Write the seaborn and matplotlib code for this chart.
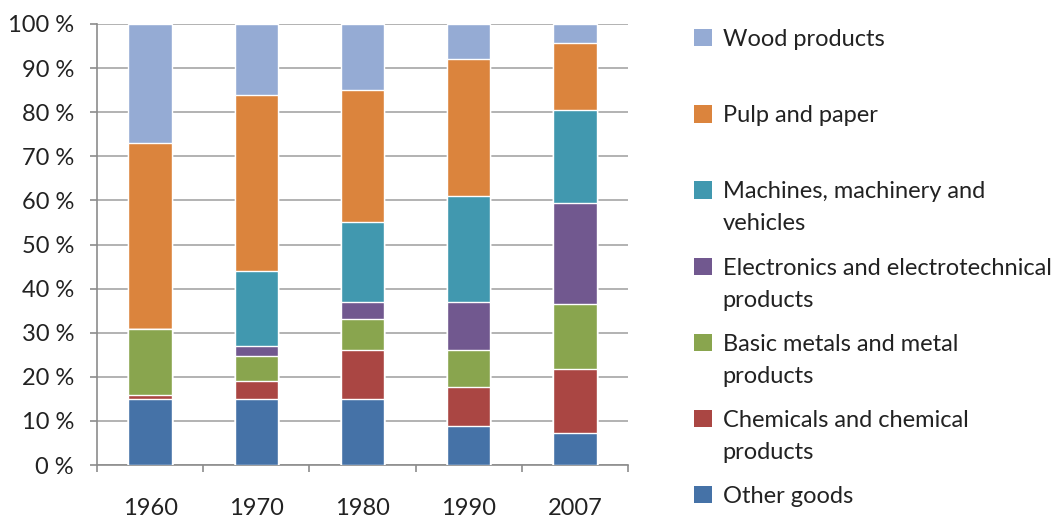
import matplotlib.pyplot as plt
import numpy as np
import pandas as pd
import seaborn as sns
from matplotlib.patches import Patch
from matplotlib.ticker import FixedLocator

years = ['1960', '1970', '1980', '1990', '2007']

# shares in percent, bottom to top
other_goods = [15.0, 15.0, 15.0, 8.8, 7.3]
chemicals = [0.8, 4.0, 11.0, 9.0, 14.4]
basic_metals = [15.0, 5.8, 7.0, 8.2, 14.7]
electronics = [0.0, 2.1, 4.0, 11.0, 23.1]
machines = [0.0, 17.1, 18.0, 24.0, 21.1]
pulp_paper = [42.2, 40.0, 30.1, 31.0, 15.0]
wood_products = [27.0, 16.0, 14.9, 8.0, 4.4]

series = ['Other goods', 'Chemicals and chemical\nproducts', 'Basic metals and metal\nproducts',
          'Electronics and electrotechnical\nproducts', 'Machines, machinery and\nvehicles',
          'Pulp and paper\n', 'Wood products\n']
values = [other_goods, chemicals, basic_metals, electronics, machines, pulp_paper, wood_products]
colors = ['#4572a7', '#aa4643', '#89a54e', '#71588f', '#4198af', '#db843d', '#95abd4']

sns.set_style('white')
plt.rcParams['font.family'] = ['Lato', 'DejaVu Sans']

fig = plt.figure(figsize=(10.64, 5.19), dpi=100)
ax = fig.add_axes([0.0912, 0.104, 0.499, 0.8498])

df = pd.DataFrame(values, index=series, columns=years)
cum = df.cumsum()

# draw from the top segment down so each one covers the part above the next
for name, color in reversed(list(zip(series, colors))):
    sns.barplot(x=years, y=cum.loc[name].values, color=color, width=0.41,
                saturation=1, ax=ax, zorder=3)

ax.set_ylim(0, 100)
ax.set_xlim(-0.5, 4.5)
ax.set_yticks(np.arange(0, 101, 10))
ax.set_yticklabels([f'{v} %' for v in range(0, 101, 10)])
ax.yaxis.grid(True, color='#a6a6a6', linewidth=1.2, zorder=0)
ax.set_axisbelow(True)
for side in ['top', 'right']:
    ax.spines[side].set_visible(False)
for side in ['left', 'bottom']:
    ax.spines[side].set_color('#8c8c8c')
    ax.spines[side].set_linewidth(1.2)

ax.tick_params(axis='y', which='major', length=5, width=1.2, color='#8c8c8c', pad=11.5,
               labelsize=17, labelcolor='#222222', left=True)
ax.tick_params(axis='x', which='major', length=0, pad=24, labelsize=17, labelcolor='#222222')
ax.xaxis.set_minor_locator(FixedLocator(np.arange(-0.5, 4.6, 1.0)))
ax.tick_params(axis='x', which='minor', length=5, width=1.2, color='#8c8c8c', bottom=True)
ax.set_xlabel('')
ax.set_ylabel('')

handles = [Patch(facecolor=c, edgecolor='none') for c in colors]
leg = fig.legend(handles[::-1], series[::-1], loc='upper left', bbox_to_anchor=(0.6325, 0.985),
                 frameon=False, fontsize=17, labelspacing=0.98, handlelength=0.75,
                 handleheight=0.75, handletextpad=0.45)
for col in leg._legend_handle_box.get_children():
    for row in col.get_children():
        row.align = 'top'
for t in leg.get_texts():
    t.set_color('#222222')
    t.set_linespacing(1.65)

fig.savefig('out.png', dpi=100)
